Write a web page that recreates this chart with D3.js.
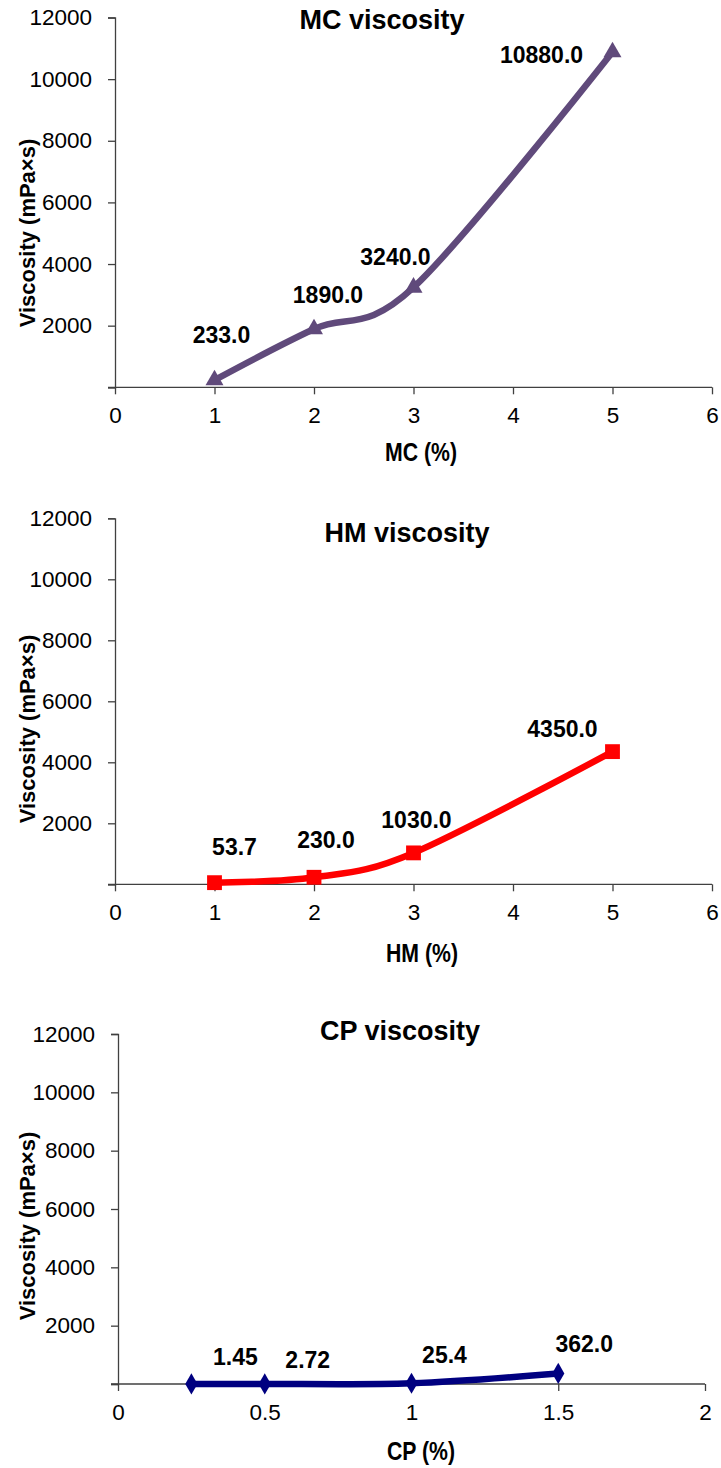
<!DOCTYPE html>
<html>
  <head>
    <meta charset="utf-8">
    <style>
      body { margin: 0; background: #fff; }
      text { font-family: "Liberation Sans", Arial, sans-serif; }
    </style>
  </head>
  <body>
    <script src="https://cdn.jsdelivr.net/npm/d3@7"></script>
    <script>
    // data
    var mcConc = [1, 2, 3, 5],
        mcVisc = [233, 1890, 3240, 10880],
        mcLabels = ["233.0", "1890.0", "3240.0", "10880.0"];

    var hmConc = [1, 2, 3, 5],
        hmVisc = [53.7, 230, 1030, 4350],
        hmLabels = ["53.7", "230.0", "1030.0", "4350.0"];

    var cpConc = [0.25, 0.5, 1, 1.5],
        cpVisc = [1.45, 2.72, 25.4, 362],
        cpLabels = ["1.45", "2.72", "25.4", "362.0"];

    var yTicks = [0, 2000, 4000, 6000, 8000, 10000, 12000],
        xTicksWide = [0, 1, 2, 3, 4, 5, 6],
        xTicksCP = [0, 0.5, 1, 1.5, 2];

    var width = 721, height = 1468;

    var svg = d3.select("body")
                .append("svg")
                  .attr("width", width)
                  .attr("height", height);

    // label offsets from their point (dx, dy), placed by hand like the original
    var panels = [
      { title: "MC viscosity", xTitle: "MC (%)", x: mcConc, y: mcVisc, labels: mcLabels,
        xTicks: xTicksWide, xMax: 6, left: 115, right: 712, top: 17.5, bottom: 387.3,
        color: "#604a7b", marker: d3.symbolTriangle, markerSize: 140,
        titleX: 382, titleY: 29, xTitleX: 421, xTitleY: 461, yTitleY: 233,
        offsets: [[7, -37], [14, -26], [-18, -22], [-71, 11]] },
      { title: "HM viscosity", xTitle: "HM (%)", x: hmConc, y: hmVisc, labels: hmLabels,
        xTicks: xTicksWide, xMax: 6, left: 115, right: 712, top: 518.3, bottom: 884.3,
        color: "#ff0000", marker: d3.symbolSquare, markerSize: 220,
        titleX: 407, titleY: 542, xTitleX: 422, xTitleY: 962, yTitleY: 729,
        offsets: [[20, -28], [12, -29], [3, -25], [-50, -15]] },
      { title: "CP viscosity", xTitle: "CP (%)", x: cpConc, y: cpVisc, labels: cpLabels,
        xTicks: xTicksCP, xMax: 2, left: 118, right: 705, top: 1034, bottom: 1384,
        color: "#000080", marker: d3.symbolDiamond, markerSize: 130,
        titleX: 400, titleY: 1040, xTitleX: 421, xTitleY: 1460, yTitleY: 1226,
        offsets: [[44, -19], [43, -16], [33, -20], [26, -21]] }
    ];

    panels.forEach(function(p) {
      var xScale = d3.scaleLinear().domain([0, p.xMax]).range([p.left, p.right]);
      var yScale = d3.scaleLinear().domain([0, 12000]).range([p.bottom, p.top]);
      var g = svg.append("g");

      var yAxis = g.append("g")
          .attr("transform", "translate(" + p.left + ",0)")
          .call(d3.axisLeft(yScale).tickValues(yTicks).tickSize(7).tickPadding(16)
                  .tickFormat(function(d) { return d === 0 ? "" : d; }));
      var xAxis = g.append("g")
          .attr("transform", "translate(0," + p.bottom + ")")
          .call(d3.axisBottom(xScale).tickValues(p.xTicks).tickSize(7).tickPadding(13)
                  .tickFormat(d3.format("")));

      [xAxis, yAxis].forEach(function(a) {
        a.selectAll("path").attr("stroke", "#404040").attr("stroke-width", 1.3);
        a.selectAll("line").attr("stroke", "#404040").attr("stroke-width", 1.3);
        a.selectAll("text").attr("font-size", 22.5).attr("fill", "#000")
          .style("font-family", "'Liberation Sans', Arial, sans-serif");
      });
      xAxis.select(".domain").attr("d", "M" + (p.left - 7) + ",0H" + p.right);

      var pts = p.x.map(function(v, i) { return [v, p.y[i]]; });

      g.append("path")
        .datum(pts)
        .attr("fill", "none")
        .attr("stroke", p.color)
        .attr("stroke-width", 6.5)
        .attr("stroke-linejoin", "round")
        .attr("d", d3.line()
          .curve(d3.curveCardinal.tension(0))
          .x(function(d) { return xScale(d[0]); })
          .y(function(d) { return yScale(d[1]); }));

      g.selectAll(".marker")
        .data(pts)
        .enter().append("path")
          .attr("transform", function(d) {
            return "translate(" + xScale(d[0]) + "," + yScale(d[1]) + ")";
          })
          .attr("fill", p.color)
          .attr("d", d3.symbol().type(p.marker).size(p.markerSize));

      g.selectAll(".lbl")
        .data(pts)
        .enter().append("text")
          .attr("x", function(d, i) { return xScale(d[0]) + p.offsets[i][0]; })
          .attr("y", function(d, i) { return yScale(d[1]) + p.offsets[i][1]; })
          .attr("text-anchor", "middle")
          .attr("font-size", 23)
          .attr("font-weight", "bold")
          .text(function(d, i) { return p.labels[i]; });

      g.append("text")
        .attr("x", p.titleX).attr("y", p.titleY)
        .attr("text-anchor", "middle")
        .attr("font-size", 27).attr("font-weight", "bold")
        .text(p.title);

      // axis titles in the original are a narrow bold face
      g.append("text")
        .attr("transform", "translate(" + p.xTitleX + "," + p.xTitleY + ") scale(0.85,1)")
        .attr("text-anchor", "middle")
        .attr("font-size", 25).attr("font-weight", "bold")
        .text(p.xTitle);

      g.append("text")
        .attr("transform", "translate(35," + p.yTitleY + ") rotate(-90)")
        .attr("text-anchor", "middle")
        .attr("font-size", 22).attr("font-weight", "bold")
        .text("Viscosity (mPa\u00d7s)");
    });
    </script>
  </body>
</html>
